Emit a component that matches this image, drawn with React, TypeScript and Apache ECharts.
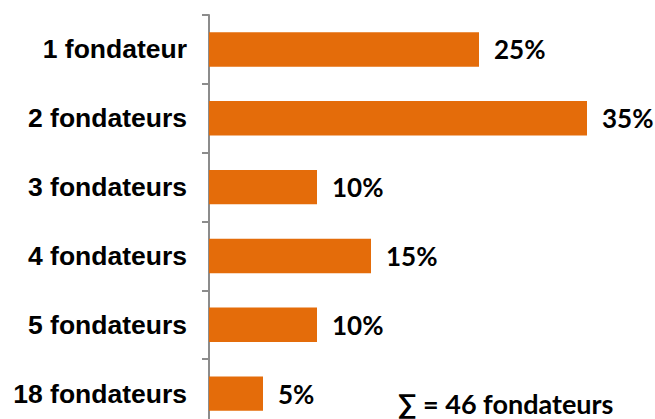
import React, { useEffect, useRef } from "react";
import * as echarts from "echarts";

const categories = ["1 fondateur", "2 fondateurs", "3 fondateurs", "4 fondateurs", "5 fondateurs", "18 fondateurs"];
const values = [25, 35, 10, 15, 10, 5];
const note = "∑ = 46 fondateurs";

export default function App() {
  const ref = useRef<HTMLDivElement>(null);
  useEffect(() => {
    document.body.style.margin = "0";
    const chart = echarts.init(ref.current!, null, { renderer: "svg" });
    chart.setOption({
      animation: false,
      backgroundColor: "#ffffff",
      grid: { left: 209, top: 15, width: 432, height: 413, containLabel: false },
      xAxis: { type: "value", min: 0, max: 40, show: false },
      yAxis: {
        type: "category",
        data: categories,
        inverse: true,
        axisLine: { show: true, lineStyle: { color: "#8c8c8c", width: 2 } },
        axisTick: { show: true, inside: false, length: 7, lineStyle: { color: "#8c8c8c", width: 2 } },
        axisLabel: {
          margin: 22,
          color: "#000",
          fontFamily: "Liberation Sans, Arial, sans-serif",
          fontWeight: "bold",
          fontSize: 26.5,
        },
      },
      series: [
        {
          type: "bar",
          data: values,
          barWidth: "50%",
          itemStyle: { color: "#E46C0A" },
          label: {
            show: true,
            position: "right",
            distance: 15,
            formatter: "{c}%",
            color: "#000",
            fontFamily: "Lato, sans-serif",
            fontWeight: "bold",
            fontSize: 26,
          },
        },
      ],
      graphic: [
        {
          type: "text",
          left: 398,
          top: 390,
          style: {
            text: note,
            fill: "#000",
            font: "bold 27px Lato, sans-serif",
          },
        },
      ],
    });
    return () => chart.dispose();
  }, []);
  return (
    <div style={{ width: 655, height: 419, overflow: "hidden", position: "relative" }}>
      <div ref={ref} style={{ width: 655, height: 445 }} />
    </div>
  );
}
